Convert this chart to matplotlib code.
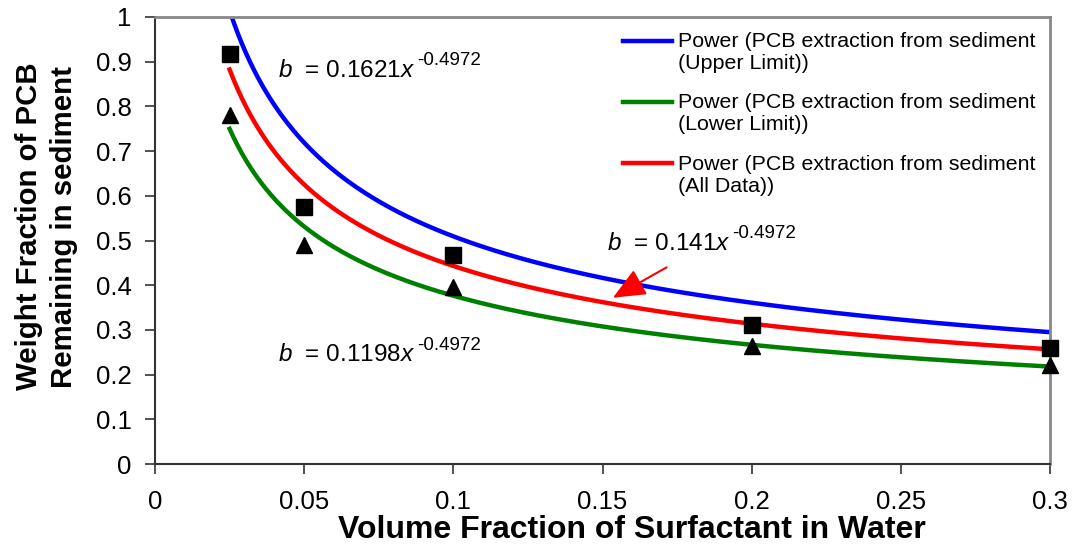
import numpy as np
import matplotlib
matplotlib.use("Agg")
import matplotlib.pyplot as plt
from matplotlib.legend_handler import HandlerLine2D
from matplotlib.transforms import offset_copy

plt.rcParams['font.family'] = ['Liberation Sans', 'DejaVu Sans']
plt.rcParams['mathtext.fontset'] = 'custom'
plt.rcParams['mathtext.rm'] = 'Liberation Sans'
plt.rcParams['mathtext.it'] = 'Liberation Sans:italic'
plt.rcParams['mathtext.bf'] = 'Liberation Sans:bold'

# Data
x_data = [0.025, 0.05, 0.1, 0.2, 0.3]
upper_pts = [0.917, 0.574, 0.467, 0.310, 0.259]   # squares
lower_pts = [0.780, 0.490, 0.397, 0.265, 0.222]   # triangles
coef_upper = 0.1621
coef_lower = 0.1198
coef_all = 0.141
exponent = -0.4972
series_labels = ["Power (PCB extraction from sediment\n(Upper Limit))",
                 "Power (PCB extraction from sediment\n(Lower Limit))",
                 "Power (PCB extraction from sediment\n(All Data))"]
eq_coefs = ["0.1621", "0.141", "0.1198"]
eq_exp = "-0.4972"
x_ticks = [0, 0.05, 0.1, 0.15, 0.2, 0.25, 0.3]
x_tick_labels = ["0", "0.05", "0.1", "0.15", "0.2", "0.25", "0.3"]
y_ticks = [0, 0.1, 0.2, 0.3, 0.4, 0.5, 0.6, 0.7, 0.8, 0.9, 1.0]
y_tick_labels = ["0", "0.1", "0.2", "0.3", "0.4", "0.5", "0.6", "0.7", "0.8", "0.9", "1"]

fig = plt.figure(figsize=(10.73, 5.49), dpi=100)
ax = fig.add_axes([155/1073, 85/549, 895/1073, 447/549])

xs = np.linspace(0.025, 0.3, 400)
l1, = ax.plot(xs, coef_upper * xs**exponent, color='#0000ff', lw=3.2, label=series_labels[0])
l2, = ax.plot(xs, coef_lower * xs**exponent, color='#008000', lw=3.2, label=series_labels[1])
l3, = ax.plot(xs, coef_all * xs**exponent, color='#ff0000', lw=3.2, label=series_labels[2])

ax.plot(x_data, upper_pts, linestyle='none', marker='s', color='black', ms=11, clip_on=False, zorder=5)
ax.plot(x_data, lower_pts, linestyle='none', marker='^', color='black', ms=11, clip_on=False, zorder=5)

ax.set_xlim(0, 0.3)
ax.set_ylim(0, 1)
ax.set_xticks(x_ticks)
ax.set_xticklabels(x_tick_labels)
ax.set_yticks(y_ticks)
ax.set_yticklabels(y_tick_labels)
ax.tick_params(axis='both', labelsize=18.5, direction='out', length=7, width=1.2, color='#333333')
ax.tick_params(axis='x', pad=12)
ax.tick_params(axis='y', pad=10)

for s in ['left', 'bottom']:
    ax.spines[s].set_color('#333333')
    ax.spines[s].set_linewidth(1.5)
for s in ['top', 'right']:
    ax.spines[s].set_color('#888888')
    ax.spines[s].set_linewidth(2)

ax.set_xlabel("Volume Fraction of Surfactant in Water", fontsize=23, fontweight='bold',
              va='baseline')
ax.xaxis.set_label_coords(0.533, -0.166)
ax.set_ylabel("Weight Fraction of PCB\nRemaining in sediment", fontsize=21.2, fontweight='bold',
              linespacing=1.3)
ax.yaxis.set_label_coords(-0.086, 0.531)

# equations
eq_pos = [(0.0412, 0.88), (0.1515, 0.493), (0.0412, 0.243)]
fig.canvas.draw()
renderer = fig.canvas.get_renderer()
for (ex, ey), c in zip(eq_pos, eq_coefs):
    t = ax.text(ex, ey, r"$\it{b}$  = " + c + r"$\it{x}$", fontsize=17.5, va='center', ha='left')
    bb = t.get_window_extent(renderer=renderer)
    inv = ax.transData.inverted()
    xr, _ = inv.transform((bb.x1 + 2, bb.y0))
    ax.text(xr, ey, eq_exp, fontsize=13.5, va='center', ha='left',
            transform=offset_copy(ax.transData, fig=fig, x=0, y=7, units='points'))

ax.annotate("", xy=(0.1535, 0.372), xytext=(0.1715, 0.44),
            arrowprops=dict(arrowstyle='-|>,head_length=0.8,head_width=0.35', color='#ff0000',
                            lw=1.5, mutation_scale=25, shrinkA=0, shrinkB=0))


class FirstLineHandler(HandlerLine2D):
    def create_artists(self, legend, orig_handle, xdescent, ydescent, width, height, fontsize, trans):
        arts = super().create_artists(legend, orig_handle, xdescent, ydescent, width, height, fontsize, trans)
        for a in arts:
            a.set_ydata(np.asarray(a.get_ydata()) + 0.55 * fontsize)
        return arts


leg = ax.legend(handles=[l1, l2, l3], loc='upper left', bbox_to_anchor=(453/895, 1.0),
                frameon=False, fontsize=15.4, handlelength=2.3, handletextpad=0.25,
                labelspacing=0.95, borderaxespad=0.3,
                handler_map={l1: FirstLineHandler(), l2: FirstLineHandler(), l3: FirstLineHandler()})

fig.savefig("out.png", dpi=100)
